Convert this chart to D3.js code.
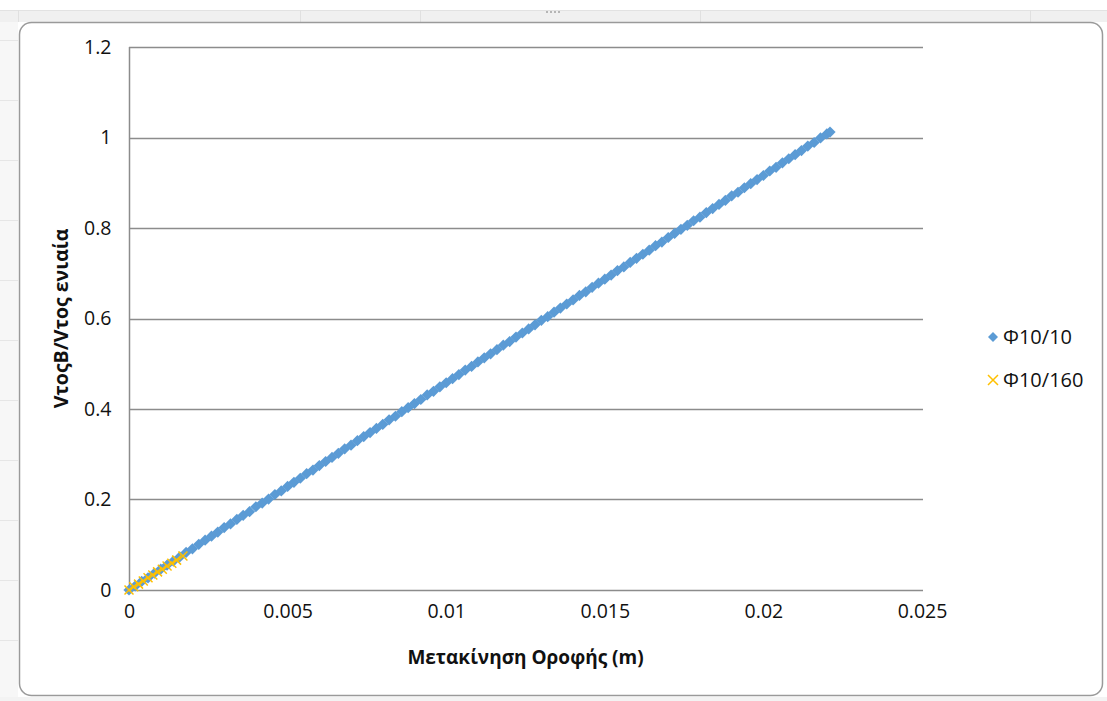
<!DOCTYPE html>
<html>
<head>
<meta charset="utf-8">
<script src="https://cdn.jsdelivr.net/npm/d3@7"></script>
<style>
  html, body { margin: 0; padding: 0; background: #ffffff; }
  svg { display: block; }
  text { font-family: "Open Sans", "Noto Sans", sans-serif; fill: #111111; }
</style>
</head>
<body>
<svg id="chart" width="1107" height="701"></svg>
<script>
// Roof displacement (m) vs. shear ratio, series Φ10/10
const dispA = [
  0, 0.0002, 0.0004, 0.0006, 0.0008, 0.0010, 0.0012, 0.0014, 0.0016, 0.0018,
  0.0020, 0.0022, 0.0024, 0.0026, 0.0028, 0.0030, 0.0032, 0.0034, 0.0036, 0.0038,
  0.0040, 0.0042, 0.0044, 0.0046, 0.0048, 0.0050, 0.0052, 0.0054, 0.0056, 0.0058,
  0.0060, 0.0062, 0.0064, 0.0066, 0.0068, 0.0070, 0.0072, 0.0074, 0.0076, 0.0078,
  0.0080, 0.0082, 0.0084, 0.0086, 0.0088, 0.0090, 0.0092, 0.0094, 0.0096, 0.0098,
  0.0100, 0.0102, 0.0104, 0.0106, 0.0108, 0.0110, 0.0112, 0.0114, 0.0116, 0.0118,
  0.0120, 0.0122, 0.0124, 0.0126, 0.0128, 0.0130, 0.0132, 0.0134, 0.0136, 0.0138,
  0.0140, 0.0142, 0.0144, 0.0146, 0.0148, 0.0150, 0.0152, 0.0154, 0.0156, 0.0158,
  0.0160, 0.0162, 0.0164, 0.0166, 0.0168, 0.0170, 0.0172, 0.0174, 0.0176, 0.0178,
  0.0180, 0.0182, 0.0184, 0.0186, 0.0188, 0.0190, 0.0192, 0.0194, 0.0196, 0.0198,
  0.0200, 0.0202, 0.0204, 0.0206, 0.0208, 0.0210, 0.0212, 0.0214, 0.0216, 0.0218,
  0.0220, 0.0221
];
const ratioA = [
  0, 0.009, 0.019, 0.027, 0.037, 0.046, 0.055, 0.064, 0.073, 0.083,
  0.091, 0.101, 0.110, 0.119, 0.128, 0.138, 0.146, 0.156, 0.165, 0.173,
  0.184, 0.192, 0.201, 0.211, 0.219, 0.229, 0.238, 0.247, 0.257, 0.265,
  0.275, 0.284, 0.293, 0.302, 0.312, 0.320, 0.330, 0.339, 0.348, 0.357,
  0.366, 0.376, 0.384, 0.394, 0.403, 0.412, 0.421, 0.431, 0.439, 0.449,
  0.458, 0.467, 0.476, 0.486, 0.494, 0.504, 0.513, 0.522, 0.531, 0.541,
  0.549, 0.559, 0.568, 0.577, 0.586, 0.596, 0.604, 0.614, 0.623, 0.632,
  0.641, 0.651, 0.659, 0.669, 0.678, 0.687, 0.696, 0.706, 0.714, 0.724,
  0.733, 0.742, 0.751, 0.761, 0.769, 0.779, 0.788, 0.797, 0.806, 0.816,
  0.824, 0.834, 0.843, 0.852, 0.861, 0.871, 0.879, 0.889, 0.898, 0.907,
  0.916, 0.926, 0.934, 0.944, 0.953, 0.962, 0.971, 0.981, 0.989, 0.999,
  1.008, 1.012
];

// Series Φ10/160
const dispB = [0, 0.00015, 0.0003, 0.00045, 0.0006, 0.00075, 0.0009, 0.00105, 0.0012, 0.00135, 0.0015, 0.0017];
const ratioB = [0, 0.007, 0.013, 0.020, 0.027, 0.033, 0.040, 0.046, 0.053, 0.059, 0.066, 0.075];

const seriesNames = ["Φ10/10", "Φ10/160"];
const seriesColors = ["#5b9bd5", "#ffc000"];
const xTicks = [0, 0.005, 0.01, 0.015, 0.02, 0.025];
const yTicks = [0, 0.2, 0.4, 0.6, 0.8, 1, 1.2];
const xTitle = "Μετακίνηση Οροφής (m)";
const yTitle = "VτοςB/Vτος ενιαία";

const svg = d3.select("#chart");
const W = 1107, H = 701;

// Worksheet backdrop around the embedded chart
const sheet = svg.append("g");
sheet.append("rect").attr("x", 0).attr("y", 10).attr("width", W).attr("height", 12)
  .attr("fill", "#f0f0f0");
sheet.append("line").attr("x1", 0).attr("x2", W).attr("y1", 10.5).attr("y2", 10.5)
  .attr("stroke", "#e2e2e2");
[18, 300, 420, 700, 1030].forEach(x => {
  sheet.append("line").attr("x1", x + 0.5).attr("x2", x + 0.5).attr("y1", 10).attr("y2", 22)
    .attr("stroke", "#e0e0e0");
});
sheet.append("rect").attr("x", 0).attr("y", 22).attr("width", 18).attr("height", H - 22)
  .attr("fill", "#f7f7f7");
[40, 100, 160, 220, 280, 340, 400, 460, 520, 580, 640].forEach(y => {
  sheet.append("line").attr("x1", 0).attr("x2", 18).attr("y1", y + 0.5).attr("y2", y + 0.5)
    .attr("stroke", "#e6e6e6");
});
sheet.append("rect").attr("x", 0).attr("y", 697).attr("width", W).attr("height", 4)
  .attr("fill", "#f3f3f3");
// resize handle dots on the top edge
[546, 550, 554, 558].forEach(x => {
  sheet.append("rect").attr("x", x).attr("y", 11).attr("width", 2).attr("height", 2).attr("fill", "#b5b5b5");
});

// Chart area
svg.append("rect")
  .attr("x", 19.5).attr("y", 22.5).attr("width", 1083).attr("height", 673)
  .attr("rx", 12).attr("ry", 12)
  .attr("fill", "#ffffff").attr("stroke", "#9a9a9a").attr("stroke-width", 1.5);

// Plot area
const plot = { left: 129, right: 922, top: 47, bottom: 590 };
const x = d3.scaleLinear().domain([0, 0.025]).range([plot.left, plot.right]);
const y = d3.scaleLinear().domain([0, 1.2]).range([plot.bottom, plot.top]);

// Horizontal gridlines
svg.append("g")
  .selectAll("line")
  .data(yTicks.filter(t => t > 0))
  .join("line")
  .attr("x1", plot.left).attr("x2", plot.right + 1)
  .attr("y1", d => Math.round(y(d)) + 0.5).attr("y2", d => Math.round(y(d)) + 0.5)
  .attr("stroke", "#8c8c8c").attr("stroke-width", 1.5);

// Axes
const xAxis = d3.axisBottom(x).tickValues(xTicks).tickSize(0).tickPadding(14)
  .tickFormat(d => d3.format("")(+d.toFixed(3)));
const gx = svg.append("g").attr("transform", `translate(0,${plot.bottom + 0.5})`).call(xAxis);
gx.select(".domain").attr("stroke", "#8c8c8c").attr("stroke-width", 1.5)
  .attr("d", `M${plot.left},0H${plot.right + 1}`);
gx.selectAll("text").attr("font-size", 19.5).attr("fill", "#111111")
  .attr("font-family", "Open Sans");

const yAxis = d3.axisLeft(y).tickValues(yTicks).tickSize(0).tickPadding(18)
  .tickFormat(d => d3.format("")(+d.toFixed(1)));
const gy = svg.append("g").attr("transform", `translate(${plot.left + 0.5},0)`).call(yAxis);
gy.select(".domain").attr("stroke", "#8c8c8c").attr("stroke-width", 1.5)
  .attr("d", `M0,${plot.top}V${plot.bottom}`);
gy.selectAll("text").attr("font-size", 19.5).attr("fill", "#111111")
  .attr("font-family", "Open Sans");

// Markers
const diamond = r => `M0,${-r}L${r},0L0,${r}L${-r},0Z`;
const cross = r => `M${-r},${-r}L${r},${r}M${-r},${r}L${r},${-r}`;

const dataA = dispA.map((d, i) => ({ x: d, y: ratioA[i] }));
const dataB = dispB.map((d, i) => ({ x: d, y: ratioB[i] }));

svg.append("g")
  .selectAll("path")
  .data(dataA)
  .join("path")
  .attr("d", diamond(5.6))
  .attr("transform", d => `translate(${x(d.x)},${y(d.y)})`)
  .attr("fill", seriesColors[0]);

svg.append("g")
  .selectAll("path")
  .data(dataB)
  .join("path")
  .attr("d", cross(4.5))
  .attr("transform", d => `translate(${x(d.x)},${y(d.y)})`)
  .attr("fill", "none")
  .attr("stroke", seriesColors[1]).attr("stroke-width", 1.5);

// Axis titles
svg.append("text")
  .attr("x", (plot.left + plot.right) / 2).attr("y", 664)
  .attr("text-anchor", "middle").attr("font-size", 19).attr("font-weight", "bold")
  .text(xTitle);

svg.append("text")
  .attr("transform", `translate(68,${(plot.top + plot.bottom) / 2}) rotate(-90)`)
  .attr("text-anchor", "middle").attr("font-size", 19.5).attr("font-weight", "bold")
  .text(yTitle);

// Legend
const legend = svg.append("g").attr("transform", "translate(993,337)");
const items = legend.selectAll("g").data(seriesNames).join("g")
  .attr("transform", (d, i) => `translate(0,${i * 43})`);
items.append("path")
  .attr("d", (d, i) => i === 0 ? diamond(5) : cross(5))
  .attr("fill", (d, i) => i === 0 ? seriesColors[0] : "none")
  .attr("stroke", (d, i) => i === 0 ? "none" : seriesColors[1])
  .attr("stroke-width", 1.5);
items.append("text")
  .attr("x", 10).attr("y", 7)
  .attr("font-size", 20)
  .text(d => d);
</script>
</body>
</html>
